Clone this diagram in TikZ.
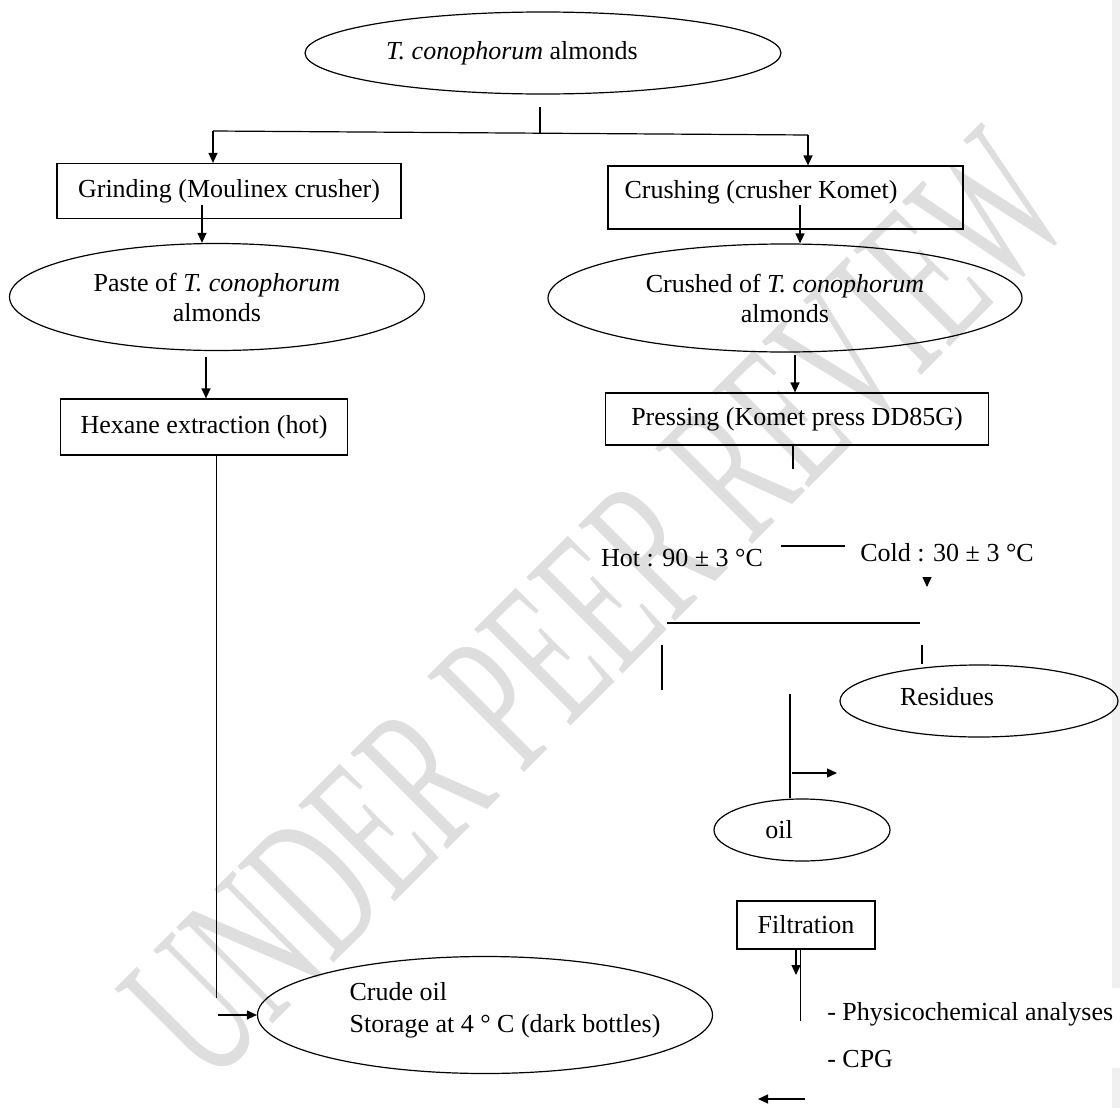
\documentclass[tikz,border=0pt]{standalone}
\usepackage{fontspec}
\setmainfont{Liberation Serif}
\usetikzlibrary{shapes.geometric,arrows.meta}

\tikzset{
  stepbox/.style={draw, rectangle, inner sep=0pt},
  oval/.style={draw, ellipse, inner sep=0pt, align=center},
  flow/.style={-{Triangle[length=5pt,width=4.5pt]}},
}

\begin{document}
\begin{tikzpicture}[x=0.5pt, y=-0.5pt, line width=0.6pt,
  every node/.style={font=\fontsize{13}{15}\selectfont}]

  % Page
  \useasboundingbox (0,0) rectangle (1120,1108);
  \fill[black!6] (1112,0) rectangle (1120,988);
  \fill[black!6] (1112,1068) rectangle (1120,1108);
  % Watermark
  \node[text=black!13, rotate=45, font=\fontsize{104}{104}\selectfont] (mark) at (597,606)
    {\scalebox{0.575}[1]{UNDER PEER REVIEW}};

  % Almonds
  \node[oval, minimum width=238pt, minimum height=41pt] (almonds) at (543,53) {};
  \node (almondstxt) at (512,53) {\textit{T. conophorum} almonds};

  % Left column
  \node[stepbox, minimum width=172pt, minimum height=27.5pt] (grind) at (229,191) {Grinding (Moulinex crusher)};
  \node[oval, minimum width=207.5pt, minimum height=53.5pt] (paste) at (217,297) {Paste of \textit{T. conophorum}\\almonds};
  \node[stepbox, minimum width=143.5pt, minimum height=28pt] (hexane) at (204,427) {Hexane extraction (hot)};
  \node[oval, minimum width=227.5pt, minimum height=58.5pt] (crude) at (485,1015) {};
  \node[align=left] (crudetxt) at (505,1010) {Crude oil\\[1pt]Storage at 4 ° C (dark bottles)};

  % Right column
  \node[stepbox, minimum width=177.5pt, minimum height=31.5pt] (crush) at (785.5,197.5) {};
  \node (crushtxt) at (761,192) {Crushing (crusher Komet)};
  \node[oval, minimum width=237pt, minimum height=54pt] (crushed) at (785,298) {Crushed of \textit{T. conophorum}\\almonds};
  \node[stepbox, minimum width=191.5pt, minimum height=26pt] (press) at (797,419) {Pressing (Komet press DD85G)};
  \node (hot) at (682,558) {Hot : 90 ± 3 °C};
  \node (cold) at (947,553) {Cold : 30 ± 3 °C};
  \node[oval, minimum width=139pt, minimum height=36pt] (residues) at (979,701) {};
  \node (residuestxt) at (947,697) {Residues};
  \node[oval, minimum width=88pt, minimum height=31pt] (oil) at (802,830) {};
  \node (oiltxt) at (779,830) {oil};
  \node[stepbox, minimum width=69pt, minimum height=24pt] (filter) at (806,925) {Filtration};
  \node[anchor=west] (phys) at (820,1014) {- Physicochemical analyses};
  \node[anchor=west] (cpg) at (820,1059) {- CPG};

  % Split
  \coordinate (stub) at (540,107);
  \coordinate (split) at (540,133);
  \coordinate (splitL) at (213,131);
  \coordinate (splitR) at (808,135);
  \draw (stub) -- (split);
  \draw (splitL) -- (splitR);
  \draw[flow] (splitL) -- (splitL |- grind.north);
  \draw[flow] (splitR) -- (splitR |- crush.north);

  % Solvent way
  \coordinate (gp) at (202,205);
  \coordinate (ph) at (206,357);
  \coordinate (hexdown) at (216,998);
  \coordinate (crudein) at (218,1015);
  \draw[flow] (gp) -- (gp |- paste.north);
  \draw[flow] (ph) -- (ph |- hexane.north);
  \draw[line width=0.4pt] (hexdown |- hexane.south) -- (hexdown);
  \draw[flow] (crudein) -- (crude.west);

  % Press way
  \coordinate (cc) at (800,205);
  \coordinate (cp) at (795,355);
  \coordinate (pstub) at (793,469);
  \draw[flow] (cc) -- (cc |- crushed.north);
  \draw[flow] (cp) -- (cp |- press.north);
  \draw (pstub |- press.south) -- (pstub);
  \coordinate (hc1) at (781,546);
  \coordinate (hc2) at (845,546);
  \draw (hc1) -- (hc2);
  \coordinate (coldtip) at (927,587);
  \draw[flow] ([yshift=5pt]coldtip) -- (coldtip);
  \coordinate (barL) at (667,623);
  \coordinate (barR) at (920,623);
  \draw (barL) -- (barR);
  \coordinate (ls1) at (662,645);
  \coordinate (ls2) at (662,690);
  \draw (ls1) -- (ls2);
  \coordinate (rs) at (922,645);
  \draw (rs) -- (rs |- residues.north);

  % Oil
  \coordinate (oiltop) at (790,694);
  \coordinate (side) at (792,773);
  \coordinate (sideend) at (837,773);
  \draw[line width=0.8pt] (oiltop) -- (oiltop |- oil.north);
  \draw[flow] (side) -- (sideend);
  \coordinate (fa) at (796,975);
  \coordinate (fl) at (800,1021);
  \draw[flow] (fa |- filter.south) -- (fa);
  \draw[line width=0.4pt] (fl |- filter.south) -- (fl);
  \coordinate (back1) at (805,1099);
  \coordinate (back2) at (758,1099);
  \draw[flow] (back1) -- (back2);

\end{tikzpicture}
\end{document}
